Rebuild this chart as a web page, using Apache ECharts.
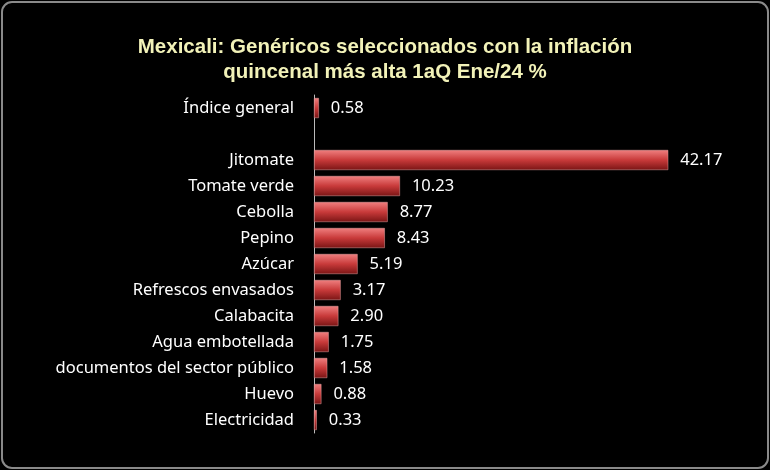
<!DOCTYPE html>
<html><head><meta charset="utf-8">
<script src="https://cdn.jsdelivr.net/npm/echarts@6/dist/echarts.min.js"></script>
<style>html,body{margin:0;padding:0;background:#fff}#c{width:770px;height:470px}</style>
</head><body><div id="c"></div>
<script>
const categories = ['Índice general','','Jitomate','Tomate verde','Cebolla','Pepino','Azúcar','Refrescos envasados','Calabacita','Agua embotellada','documentos del sector público','Huevo','Electricidad'];
const values = [0.58,null,42.17,10.23,8.77,8.43,5.19,3.17,2.90,1.75,1.58,0.88,0.33];
const chart = echarts.init(document.getElementById('c'));
chart.setOption({
  backgroundColor:'#000',
  graphic:[{type:'rect',shape:{x:2,y:2,width:766,height:466,r:10},style:{fill:'#000',stroke:'#8a8a8a',lineWidth:2},z:-10}],
  title:{text:'Mexicali: Genéricos seleccionados con la inflación\nquincenal más alta 1aQ Ene/24 %',left:'center',top:30,
    textStyle:{color:'#f2f2b8',fontFamily:'Liberation Sans',fontWeight:'bold',fontSize:20.5,lineHeight:25}},
  grid:{left:314,right:78,top:95,bottom:37},
  xAxis:{type:'value',min:0,max:45,show:false},
  yAxis:{type:'category',inverse:true,data:categories,
    axisLine:{show:true,lineStyle:{color:'#bbb',width:1}},axisTick:{show:false},
    axisLabel:{color:'#fff',fontFamily:'Noto Sans',fontSize:16.5,margin:20}},
  series:[{type:'bar',data:values,barWidth:20,
    itemStyle:{color:new echarts.graphic.LinearGradient(0,0,0,1,[{offset:0,color:'#f08080'},{offset:0.5,color:'#c83a3a'},{offset:1,color:'#7a1515'}]),
      borderColor:'#e9a0a0',borderWidth:0.5},
    label:{show:true,position:'right',distance:12,color:'#fff',fontFamily:'Noto Sans',fontSize:16.5,
      formatter:p=>p.value==null?'':p.value.toFixed(2)}}]
});
</script></body></html>
